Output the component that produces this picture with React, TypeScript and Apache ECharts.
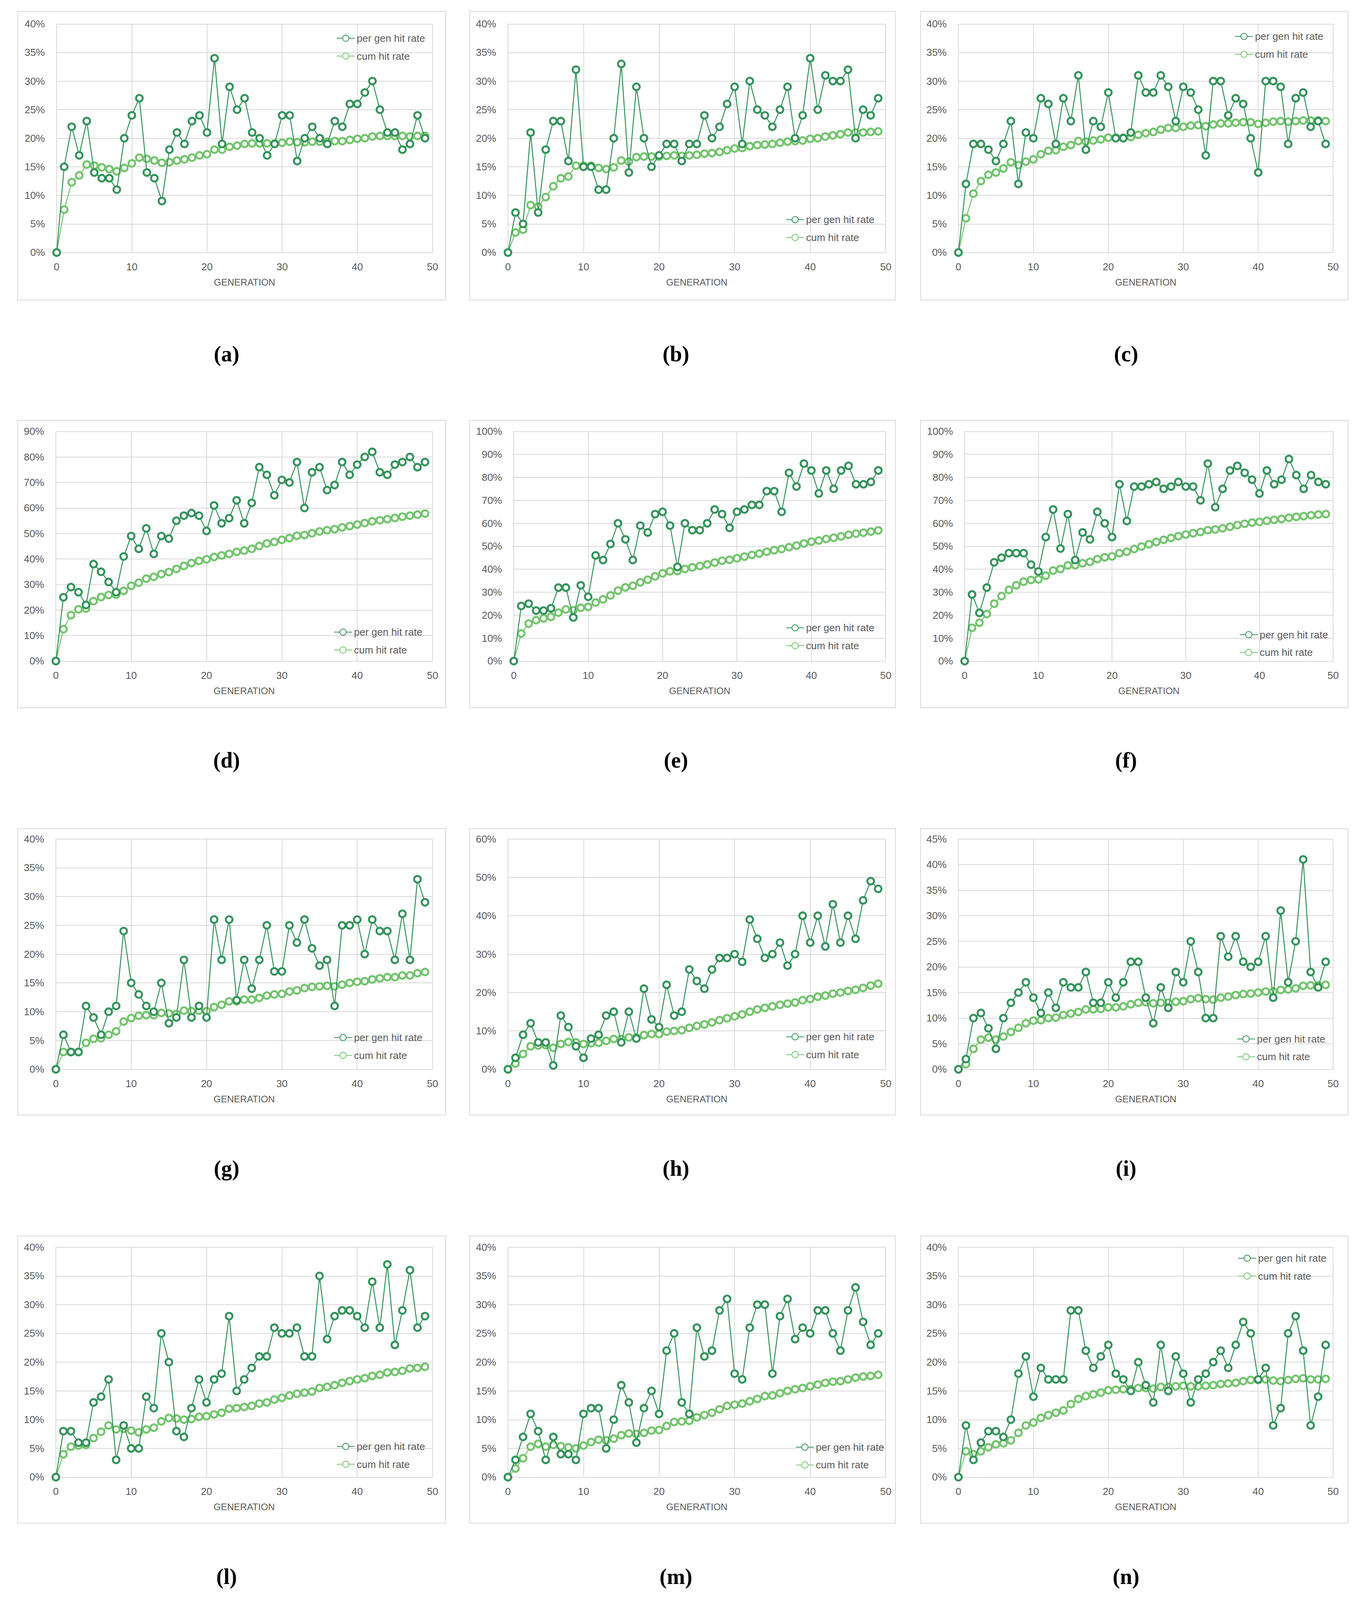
import React, { useEffect, useRef, useState } from "react";
import * as echarts from "echarts";

// ---------- DATA (in %) ----------
const panelLabels = ["(a)", "(b)", "(c)", "(d)", "(e)", "(f)", "(g)", "(h)", "(i)", "(l)", "(m)", "(n)"];
const seriesNames = ["per gen hit rate", "cum hit rate"];
const xAxisName = "GENERATION";
const yMaxes = [40, 40, 40, 90, 100, 100, 40, 60, 45, 40, 40, 40];
const yIntervals = [5, 5, 5, 10, 10, 10, 5, 10, 5, 5, 5, 5];

const perA = [0,15,22,17,23,14,13,13,11,20,24,27,14,13,9,18,21,19,23,24,21,34,19,29,25,27,21,20,17,19,24,24,16,20,22,20,19,23,22,26,26,28,30,25,21,21,18,19,24,20];
const cumA = [0,7.5,12.3,13.5,15.4,15.2,14.9,14.6,14.2,14.8,15.6,16.6,16.4,16.1,15.7,15.8,16.1,16.3,16.6,17.0,17.2,18.0,18.0,18.5,18.7,19.0,19.1,19.1,19.1,19.1,19.2,19.4,19.3,19.3,19.4,19.4,19.4,19.5,19.5,19.7,19.9,20.0,20.3,20.4,20.4,20.4,20.4,20.3,20.4,20.4];

const perB = [0,7,5,21,7,18,23,23,16,32,15,15,11,11,20,33,14,29,20,15,17,19,19,16,19,19,24,20,22,26,29,19,30,25,24,22,25,29,20,24,34,25,31,30,30,32,20,25,24,27];
const cumB = [0,3.5,4.0,8.3,8.0,9.7,11.6,13.0,13.3,15.2,15.2,15.2,14.8,14.6,14.9,16.1,15.9,16.7,16.8,16.8,16.8,16.9,17.0,16.9,17.0,17.1,17.3,17.4,17.6,17.9,18.2,18.3,18.6,18.8,18.9,19.0,19.2,19.4,19.5,19.6,19.9,20.0,20.3,20.5,20.7,21.0,21.0,21.0,21.1,21.2];

const perC = [0,12,19,19,18,16,19,23,12,21,20,27,26,19,27,23,31,18,23,22,28,20,20,21,31,28,28,31,29,23,29,28,25,17,30,30,24,27,26,20,14,30,30,29,19,27,28,22,23,19];
const cumC = [0,6.0,10.3,12.5,13.6,14.0,14.7,15.8,15.3,15.9,16.3,17.2,17.8,17.9,18.5,18.8,19.5,19.4,19.6,19.8,20.1,20.1,20.1,20.2,20.6,20.9,21.1,21.5,21.8,21.8,22.0,22.2,22.3,22.1,22.4,22.6,22.6,22.7,22.8,22.8,22.5,22.7,22.9,23.0,22.9,23.0,23.1,23.1,23.1,23.0];

const perD = [0,25,29,27,22,38,35,31,27,41,49,44,52,42,49,48,55,57,58,57,51,61,54,56,63,54,62,76,73,65,71,70,78,60,74,76,67,69,78,73,77,80,82,74,73,77,78,80,76,78];
const cumD = [0,12.5,18.0,20.3,20.6,23.5,25.1,25.9,26.0,27.5,29.5,30.7,32.3,33.0,34.1,34.9,36.1,37.3,38.4,39.3,39.9,40.8,41.4,42.0,42.8,43.3,44.0,45.1,46.1,46.7,47.5,48.2,49.1,49.4,50.1,50.8,51.3,51.7,52.4,52.9,53.5,54.1,54.8,55.2,55.6,56.1,56.6,57.0,57.4,57.8];

const perE = [0,24,25,22,22,23,32,32,19,33,28,46,44,51,60,53,44,59,56,64,65,59,41,60,57,57,60,66,64,58,65,66,68,68,74,74,65,82,76,86,83,73,83,75,83,85,77,77,78,83];
const cumE = [0,12.0,16.3,17.8,18.6,19.3,21.1,22.5,22.1,23.2,23.6,25.5,26.9,28.6,30.7,32.1,32.8,34.3,35.4,36.9,38.2,39.1,39.2,40.1,40.8,41.4,42.1,42.9,43.7,44.1,44.8,45.5,46.2,46.8,47.6,48.3,48.8,49.6,50.3,51.2,52.0,52.5,53.2,53.7,54.3,55.0,55.5,55.9,56.4,56.9];

const perF = [0,29,21,32,43,45,47,47,47,42,39,54,66,49,64,44,56,53,65,60,54,77,61,76,76,77,78,75,76,78,76,76,70,86,67,75,83,85,82,79,73,83,77,79,88,81,75,81,78,77];
const cumF = [0,14.5,16.7,20.5,25.0,28.3,31.0,33.0,34.6,35.3,35.6,37.2,39.4,40.1,41.7,41.8,42.6,43.2,44.4,45.2,45.6,47.0,47.6,48.8,49.9,50.9,51.9,52.8,53.6,54.4,55.1,55.7,56.2,57.0,57.3,57.8,58.5,59.2,59.8,60.3,60.6,61.1,61.5,61.9,62.4,62.8,63.1,63.5,63.8,64.0];

const perG = [0,6,3,3,11,9,6,10,11,24,15,13,11,10,15,8,9,19,9,11,9,26,19,26,12,19,14,19,25,17,17,25,22,26,21,18,19,11,25,25,26,20,26,24,24,19,27,19,33,29];
const cumG = [0,3.0,3.0,3.0,4.6,5.3,5.4,6.0,6.6,8.3,8.9,9.3,9.4,9.4,9.8,9.7,9.6,10.2,10.1,10.2,10.1,10.8,11.2,11.8,11.8,12.1,12.1,12.4,12.8,13.0,13.1,13.5,13.7,14.1,14.3,14.4,14.5,14.4,14.7,15.0,15.2,15.3,15.6,15.8,16.0,16.0,16.3,16.3,16.7,16.9];

const perH = [0,3,9,12,7,7,1,14,11,6,3,8,9,14,15,7,15,8,21,13,11,22,14,15,26,23,21,26,29,29,30,28,39,34,29,30,33,27,30,40,33,40,32,43,33,40,34,44,49,47];
const cumH = [0,1.5,4.0,6.0,6.2,6.3,5.6,6.6,7.1,7.0,6.6,6.8,6.9,7.4,7.9,7.9,8.3,8.3,8.9,9.2,9.2,9.8,10.0,10.2,10.8,11.3,11.7,12.2,12.8,13.3,13.8,14.3,15.0,15.6,16.0,16.4,16.8,17.1,17.4,18.0,18.3,18.9,19.2,19.7,20.0,20.4,20.7,21.2,21.8,22.3];

const perI = [0,2,10,11,8,4,10,13,15,17,14,11,15,12,17,16,16,19,13,13,17,14,17,21,21,14,9,16,12,19,17,25,19,10,10,26,22,26,21,20,21,26,14,31,17,25,41,19,16,21];
const cumI = [0,1.0,4.0,5.8,6.2,5.8,6.4,7.3,8.1,9.0,9.5,9.6,10.0,10.1,10.6,10.9,11.2,11.7,11.7,11.8,12.1,12.1,12.3,12.7,13.0,13.1,12.9,13.0,13.0,13.2,13.3,13.7,13.9,13.7,13.6,14.0,14.2,14.5,14.7,14.8,15.0,15.2,15.2,15.5,15.6,15.8,16.3,16.4,16.4,16.5];

const perL = [0,8,8,6,6,13,14,17,3,9,5,5,14,12,25,20,8,7,12,17,13,17,18,28,15,17,19,21,21,26,25,25,26,21,21,35,24,28,29,29,28,26,34,26,37,23,29,36,26,28];
const cumL = [0,4.0,5.3,5.5,5.6,6.8,7.9,9.0,8.3,8.4,8.1,7.8,8.3,8.6,9.7,10.3,10.2,10.0,10.1,10.5,10.6,10.9,11.2,11.9,12.0,12.2,12.4,12.8,13.0,13.5,13.8,14.2,14.5,14.7,14.9,15.5,15.7,16.0,16.4,16.7,17.0,17.2,17.6,17.8,18.2,18.3,18.5,18.9,19.0,19.2];

const perM = [0,3,7,11,8,3,7,4,4,3,11,12,12,5,10,16,13,6,12,15,11,22,25,13,11,26,21,22,29,31,18,17,26,30,30,18,28,31,24,26,25,29,29,25,22,29,33,27,23,25];
const cumM = [0,1.5,3.3,5.3,5.8,5.3,5.6,5.4,5.2,5.0,5.5,6.1,6.5,6.4,6.7,7.3,7.6,7.5,7.7,8.1,8.2,8.9,9.6,9.7,9.8,10.4,10.8,11.2,11.8,12.4,12.6,12.8,13.2,13.6,14.1,14.2,14.6,15.0,15.3,15.5,15.8,16.1,16.4,16.6,16.7,17.0,17.3,17.5,17.6,17.8];

const perN = [0,9,3,6,8,8,7,10,18,21,14,19,17,17,17,29,29,22,19,21,23,18,17,15,20,16,13,23,15,21,18,13,17,18,20,22,19,23,27,25,17,19,9,12,25,28,22,9,14,23];
const cumN = [0,4.5,4.0,4.5,5.2,5.7,5.9,6.4,7.7,9.0,9.5,10.3,10.8,11.2,11.6,12.7,13.6,14.1,14.4,14.7,15.1,15.2,15.3,15.3,15.5,15.5,15.4,15.7,15.7,15.8,15.9,15.8,15.8,15.9,16.0,16.2,16.3,16.4,16.7,16.9,16.9,17.0,16.8,16.7,16.9,17.1,17.2,17.0,17.0,17.1];

const perSeries = [perA, perB, perC, perD, perE, perF, perG, perH, perI, perL, perM, perN];
const cumSeries = [cumA, cumB, cumC, cumD, cumE, cumF, cumG, cumH, cumI, cumL, cumM, cumN];

// ---------- LAYOUT (in reference pixels, 3491 x 4480) ----------
const REF_W = 3491;
const REF_H = 4480;
const rowPlotTop = [67, 1208, 2349, 3492];
const rowPlotBottom = [707, 1851, 2994, 4136];
const rowBoxTop = [32, 1177, 2320, 3461];
const rowBoxBottom = [840, 1982, 3122, 4265];
const rowCaptionY = [991, 2128, 3271, 4414];
const colPlotRight = [1107, 2267, 3412];
const colBoxLeft = [45, 1202, 2356];
const colBoxRight = [1141, 2292, 3450];
const colCaptionX = [580, 1730, 2882];
const panelPlotLeft = [145, 1300, 2453, 143, 1315, 2469, 143, 1300, 2453, 143, 1300, 2453];
const legendPos = [
  [861, 107], [2011, 615], [3160, 102],
  [854, 1770], [2011, 1758], [3172, 1777],
  [854, 2905], [2011, 2903], [3165, 2909],
  [861, 4050], [2036, 4052], [3168, 3523],
];

const DARK = "#33925a";
const LIGHT = "#72c46c";
const GRIDC = "#d9d9d9";
const TEXTC = "#595959";
const FONT = "'Liberation Sans', Arial, sans-serif";

export default function App() {
  const ref = useRef<HTMLDivElement>(null);
  const vw = typeof window !== "undefined" ? document.documentElement.clientWidth || window.innerWidth : REF_W;
  const vh = typeof window !== "undefined" ? window.innerHeight : REF_H;
  const W = Math.min(REF_W, vw || REF_W);
  const H = Math.min(REF_H, vh || REF_H);
  useEffect(() => {
    if (!ref.current) return;
    const sx = W / REF_W;
    const sy = H / REF_H;
    const X = (v: number) => v * sx;
    const Y = (v: number) => v * sy;
    const chart = echarts.init(ref.current, undefined, { renderer: "svg" });
    const grids: any[] = [];
    const xAxes: any[] = [];
    const yAxes: any[] = [];
    const legends: any[] = [];
    const series: any[] = [];
    const graphics: any[] = [];
    const legendFont = 26;
    const itemH = 20;
    panelLabels.forEach((label, i) => {
      const r = Math.floor(i / 3);
      const c = i % 3;
      const left = X(panelPlotLeft[i]);
      const top = Y(rowPlotTop[r]);
      grids.push({
        left,
        top,
        width: X(colPlotRight[c]) - left,
        height: Y(rowPlotBottom[r]) - top,
        containLabel: false,
      });
      xAxes.push({
        gridIndex: i,
        type: "value",
        min: 0,
        max: 50,
        interval: 10,
        name: xAxisName,
        nameLocation: "middle",
        nameGap: Y(70),
        nameTextStyle: { fontSize: 24, color: TEXTC, fontFamily: FONT },
        axisLine: { show: false },
        axisTick: { show: false },
        axisLabel: { fontSize: 26, color: TEXTC, margin: Y(26), fontFamily: FONT },
        splitLine: { show: true, lineStyle: { color: GRIDC, width: 2 } },
      });
      yAxes.push({
        gridIndex: i,
        type: "value",
        min: 0,
        max: yMaxes[i],
        interval: yIntervals[i],
        axisLine: { show: false },
        axisTick: { show: false },
        axisLabel: { fontSize: 26, color: TEXTC, margin: X(30), formatter: "{value}%", fontFamily: FONT },
        splitLine: { show: true, lineStyle: { color: GRIDC, width: 2 } },
      });
      legends.push({
        data: [seriesNames[0], seriesNames[1]],
        orient: "vertical",
        left: X(legendPos[i][0]),
        top: Y(legendPos[i][1]) - legendFont / 2,
        itemWidth: 46,
        itemHeight: itemH,
        itemGap: Math.max(4, Y(50) - legendFont),
        selectedMode: false,
        padding: 0,
        textStyle: { fontSize: legendFont, color: TEXTC, fontFamily: FONT },
      });
      series.push({
        type: "line",
        name: seriesNames[1],
        xAxisIndex: i,
        yAxisIndex: i,
        data: cumSeries[i].map((v, j) => [j, v]),
        symbol: "circle",
        symbolSize: 17,
        itemStyle: { color: "#ffffff", borderColor: LIGHT, borderWidth: 5 },
        lineStyle: { color: LIGHT, width: 2.5 },
        z: 2,
      });
      series.push({
        type: "line",
        name: seriesNames[0],
        xAxisIndex: i,
        yAxisIndex: i,
        data: perSeries[i].map((v, j) => [j, v]),
        symbol: "circle",
        symbolSize: 17,
        itemStyle: { color: "#ffffff", borderColor: DARK, borderWidth: 5 },
        lineStyle: { color: DARK, width: 2.5 },
        z: 3,
      });
      graphics.push({
        type: "rect",
        silent: true,
        shape: {
          x: X(colBoxLeft[c]),
          y: Y(rowBoxTop[r]),
          width: X(colBoxRight[c]) - X(colBoxLeft[c]),
          height: Y(rowBoxBottom[r]) - Y(rowBoxTop[r]),
        },
        style: { fill: "none", stroke: GRIDC, lineWidth: 2 },
        z: -1,
      });
      graphics.push({
        type: "text",
        silent: true,
        x: X(colCaptionX[c]),
        y: Y(rowCaptionY[r]),
        style: {
          text: label,
          fill: "#000000",
          fontSize: Math.round(58 * Math.min(1, sy + 0.05)),
          fontWeight: "bold",
          fontFamily: "'Liberation Serif', 'Times New Roman', serif",
          align: "center",
          verticalAlign: "middle",
        },
      });
    });
    chart.setOption({
      animation: false,
      backgroundColor: "#ffffff",
      textStyle: { fontFamily: FONT },
      grid: grids,
      xAxis: xAxes,
      yAxis: yAxes,
      legend: legends,
      series,
      graphic: graphics,
    });
    return () => chart.dispose();
  }, [W, H]);
  return (
    <div
      ref={ref}
      style={{ position: "absolute", left: 0, top: 0, width: W, height: H, background: "#ffffff", overflow: "hidden" }}
    />
  );
}
